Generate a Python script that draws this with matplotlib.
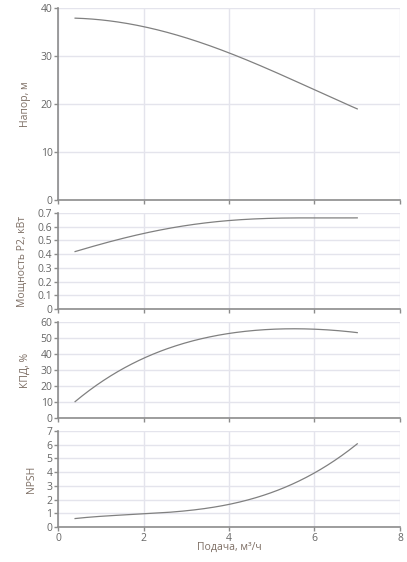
import numpy as np
import matplotlib.pyplot as plt

# Данные
q = [0.4, 1, 2, 3, 4, 5, 6, 7]
head = [37.85, 37.6, 36.1, 33.7, 30.7, 27.0, 22.9, 19.0]
power = [0.42, 0.47, 0.552, 0.61, 0.644, 0.66, 0.666, 0.664]
eff = [10.2, 22.5, 36.7, 48.0, 52.3, 55.4, 55.7, 53.3]
npsh = [0.63, 0.76, 0.93, 1.25, 1.63, 2.46, 4.0, 6.05]

xticks = [0, 2, 4, 6, 8]
ylabels = ['Напор, м', 'Мощность P2, кВт', 'КПД, %', 'NPSH']
yticks = [[0, 10, 20, 30, 40],
          [0, 0.1, 0.2, 0.3, 0.4, 0.5, 0.6, 0.7],
          [0, 10, 20, 30, 40, 50, 60],
          [0, 1, 2, 3, 4, 5, 6, 7]]
series = [head, power, eff, npsh]

plt.rcParams['font.family'] = ['Open Sans', 'DejaVu Sans']

W, H = 407, 562
fig = plt.figure(figsize=(W / 100, H / 100), dpi=100)

# Положение панелей в пикселях (верх, низ)
panels = [(8, 200), (213, 309), (322, 418), (431, 527)]
left, right = 58, 400

def smooth(x, y):
    # гладкая кривая через точки (полином)
    c = np.polyfit(x, y, 4)
    xs = np.linspace(x[0], x[-1], 200)
    return xs, np.polyval(c, xs)

for i, (top, bot) in enumerate(panels):
    ax = fig.add_axes([left / W, (H - bot) / H, (right - left) / W, (bot - top) / H])
    xs, ys = smooth(q, series[i])
    ax.plot(xs, ys, color='#808080', lw=0.9)
    ax.set_xlim(0, 8)
    ax.set_ylim(yticks[i][0], yticks[i][-1])
    ax.set_xticks(xticks)
    ax.set_yticks(yticks[i])
    ax.set_yticklabels([('%g' % v) for v in yticks[i]])
    ax.grid(True, color='#e4e4ec', lw=1)
    ax.set_axisbelow(True)
    for s in ['top', 'right']:
        ax.spines[s].set_visible(False)
    for s in ['left', 'bottom']:
        ax.spines[s].set_color('#8c8c8c')
        ax.spines[s].set_linewidth(1.2)
    ax.tick_params(colors='#8c8c8c', labelcolor='#666666', labelsize=7.5,
                   length=3, width=1, pad=1)
    ax.set_ylabel(ylabels[i], color='#7d6e64', fontsize=7.5, labelpad=7)
    if i < 3:
        ax.tick_params(axis='x', labelbottom=False)
    else:
        ax.set_xlabel('Подача, м³/ч', color='#7d6e64', fontsize=7.5, labelpad=-1)

fig.savefig('out.png', dpi=100)
